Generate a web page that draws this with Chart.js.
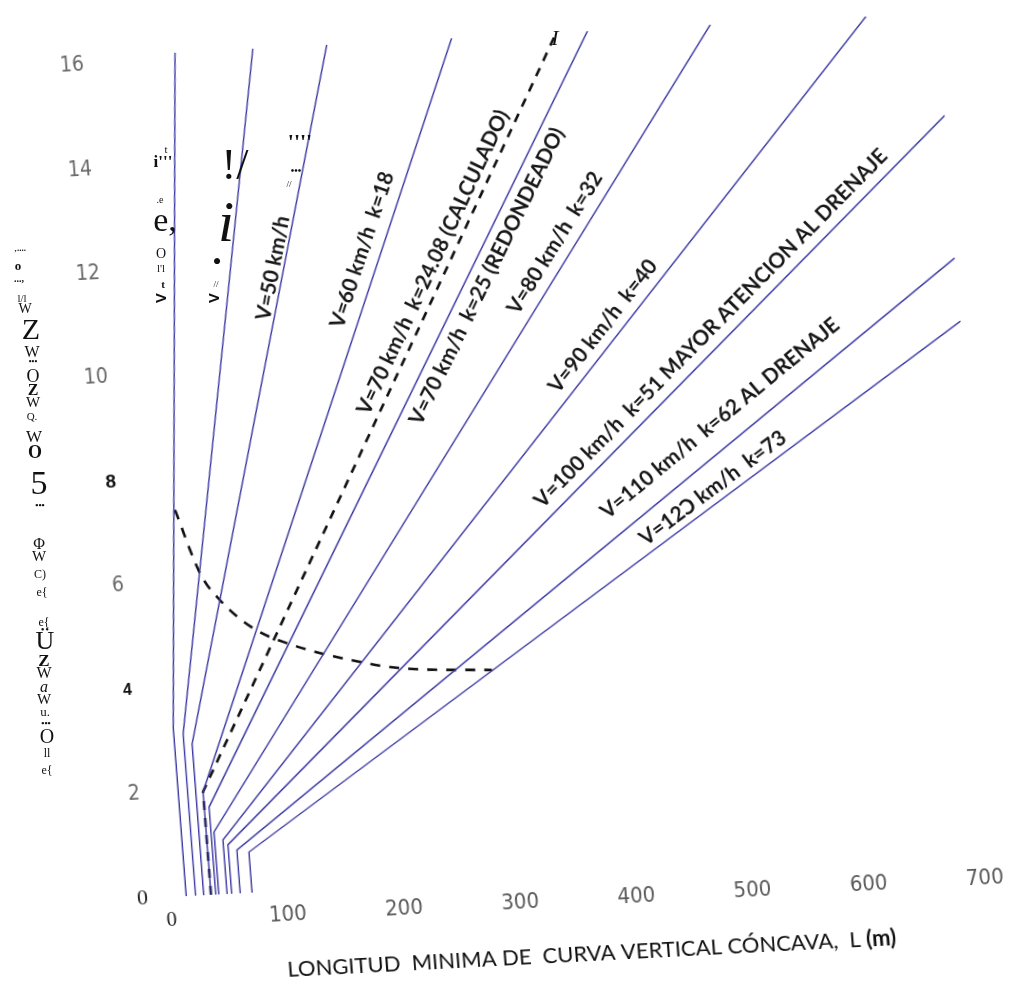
<!DOCTYPE html>
<html>
<head>
<meta charset="utf-8">
<script src="https://cdn.jsdelivr.net/npm/chart.js@4.4.1/dist/chart.umd.min.js"></script>
<style>
  html, body { margin: 0; padding: 0; background: #fff; }
  #wrap { position: relative; width: 1009px; height: 1006px; overflow: hidden; background: #fff; }
  /* the sheet sits slightly turned on the page */
  #chart { position: absolute; left: 0; top: 0;
           transform-origin: 170px 897px;
           transform: matrix(0.9986, -0.0523, 0.0767, 0.9971, 0, 0); }
  .glyph { position: absolute; white-space: pre; line-height: 1; color: #111;
           font-family: "Liberation Serif", "DejaVu Serif", serif; }
</style>
</head>
<body>
<div id="wrap">
  <canvas id="chart" width="1009" height="1006"></canvas>
  <div id="glyphs"></div>
</div>
<script>
// Design speed of each curve (km/h)
const speeds = [30, 40, 50, 60, 70, 80, 90, 100, 110, 120];
// Minimum length L (m) used for small grade differences
const minLengths = [14, 22, 29, 35.3, 39.4, 42, 49.2, 53.1, 60.5, 70.7];
// Grade difference A (%) where each curve leaves its minimum length
const kneeGrades = [3.25, 3.1, 2.9, 1.98, 1.68, 1.2, 1.04, 0.94, 0.83, 0.78];
// Where each curve leaves the frame
const endLengths = [60, 127, 191, 298.5, 415.6, 523.4, 656.8, 716, 715, 716];
const endGrades = [16.15, 16.15, 16.18, 16.17, 16.17, 16.23, 16.2, 14.18, 11.44, 10.23];

// V=70 km/h, k=24.08 (calculated) – dashed
const calcLengths = [35.3, 35.3, 387];
const calcGrades = [0, 1.98, 16.1];

// Boundary beyond which drainage needs more attention – dashed
const drainLengths = [29.8, 47, 61, 89, 117, 178, 212, 291];
const drainGrades = [7.4, 6.17, 5.67, 5.06, 4.74, 4.31, 4.15, 4.02];

const lengthTicks = [0, 100, 200, 300, 400, 500, 600, 700];
const gradeTicks = [0, 2, 4, 6, 8, 10, 12, 14, 16];

const curveLabels = [
  'V=50 km/h',
  'V=60 km/h  k=18',
  'V=70 km/h  k=24.08 (CALCULADO)',
  'V=70 km/h  k=25 (REDONDEADO)',
  'V=80 km/h  k=32',
  'V=90 km/h  k=40',
  'V=100 km/h  k=51 MAYOR ATENCION AL DRENAJE',
  'V=110 km/h  k=62 AL DRENAJE',
  'V=12\u2183 km/h  k=73'
];
const xTitle = 'LONGITUD  MINIMA DE  CURVA VERTICAL CÓNCAVA,  L ';
const xTitleUnit = '(m)';

// ---- layout / styling (not data) ----
const labelLayout = [
  { line: 2,  L: 129.8, A: 11.93 },
  { line: 3,  L: 207.3, A: 12.19 },
  { line: 10, L: 267.4, A: 11.88 },
  { line: 4,  L: 312.7, A: 11.56 },
  { line: 5,  L: 373.2, A: 12.13 },
  { line: 6,  L: 408.9, A: 10.49 },
  { line: 7,  L: 501.3, A: 10.34 },
  { line: 8,  L: 503.1, A: 8.61 },
  { line: 9,  L: 492.5, A: 7.28 }
];
const LABEL_FONT = 'bold 21px Lato, "Open Sans", sans-serif';

const BLUE = '#3a37a3';
const datasets = speeds.map((v, i) => ({
  label: 'V=' + v,
  data: [
    { x: minLengths[i], y: 0 },
    { x: minLengths[i], y: kneeGrades[i] },
    { x: endLengths[i], y: endGrades[i] }
  ],
  borderColor: BLUE, borderWidth: 1.4, pointRadius: 0, showLine: true, tension: 0
}));
datasets.push({
  label: 'calc',
  data: calcLengths.map((L, i) => ({ x: L, y: calcGrades[i] })),
  borderColor: '#111', borderWidth: 2.6, borderDash: [9, 8], pointRadius: 0, showLine: true
});
datasets.push({
  label: 'drenaje',
  data: drainLengths.map((L, i) => ({ x: L, y: drainGrades[i] })),
  borderColor: '#111', borderWidth: 2.6, borderDash: [10, 9], pointRadius: 0, showLine: true,
  cubicInterpolationMode: 'monotone'
});

const curveLabelPlugin = {
  id: 'curveLabels',
  afterDatasetsDraw(chart) {
    const { ctx, scales: { x, y } } = chart;
    labelLayout.forEach((lab, i) => {
      const pts = chart.data.datasets[lab.line].data;
      const p1 = pts[pts.length - 2], p2 = pts[pts.length - 1];
      const ang = Math.atan2(y.getPixelForValue(p2.y) - y.getPixelForValue(p1.y),
                             x.getPixelForValue(p2.x) - x.getPixelForValue(p1.x));
      ctx.save();
      ctx.translate(x.getPixelForValue(lab.L), y.getPixelForValue(lab.A));
      ctx.rotate(ang);
      ctx.font = LABEL_FONT;
      ctx.fillStyle = '#161616';
      ctx.textAlign = 'center';
      ctx.textBaseline = 'middle';
      ctx.fillText(curveLabels[i], 0, 0);
      ctx.restore();
    });
  }
};

const axisTitlePlugin = {
  id: 'axisTitle',
  afterDraw(chart) {
    const { ctx, chartArea } = chart;
    const cx = (chartArea.left + chartArea.right) / 2;
    const cy = chartArea.bottom + 79;
    const fam = 'Lato, "Open Sans", sans-serif';
    ctx.save();
    let fs = 20;
    ctx.font = `${fs}px ${fam}`;
    const w1 = ctx.measureText(xTitle).width;
    ctx.font = `bold ${fs}px ${fam}`;
    const w2 = ctx.measureText(xTitleUnit).width;
    fs = fs * 610 / (w1 + w2);
    ctx.font = `${fs}px ${fam}`;
    const a = ctx.measureText(xTitle).width;
    ctx.font = `bold ${fs}px ${fam}`;
    const b = ctx.measureText(xTitleUnit).width;
    const x0 = cx - (a + b) / 2;
    ctx.fillStyle = '#111';
    ctx.textBaseline = 'middle';
    ctx.textAlign = 'left';
    ctx.font = `${fs}px ${fam}`;
    ctx.fillText(xTitle, x0, cy);
    ctx.font = `bold ${fs}px ${fam}`;
    ctx.fillText(xTitleUnit, x0 + a, cy);
    ctx.restore();
  }
};

const lightTick = { family: '"Liberation Sans Narrow", "DejaVu Sans Condensed", sans-serif', size: 22 };

new Chart(document.getElementById('chart'), {
  type: 'scatter',
  data: { datasets },
  options: {
    responsive: false,
    animation: false,
    devicePixelRatio: 1,
    layout: { padding: { left: 0, right: 6.3, top: 54, bottom: 0 }, autoPadding: false },
    plugins: { legend: { display: false }, tooltip: { enabled: false } },
    scales: {
      x: {
        type: 'linear', min: 0, max: 716,
        afterBuildTicks: s => { s.ticks = lengthTicks.map(v => ({ value: v })); },
        afterFit: s => { s.height = 109; },
        grid: { display: false }, border: { display: false },
        ticks: {
          padding: 3,
          maxRotation: 0,
          color: c => c.tick && c.tick.value === 0 ? '#222' : '#5a5a5a',
          font: c => (c.tick && c.tick.value === 0)
            ? { family: '"Liberation Serif", serif', size: 21 }
            : lightTick
        }
      },
      y: {
        type: 'linear', min: 0, max: 16.15,
        afterBuildTicks: s => { s.ticks = gradeTicks.map(v => ({ value: v })); },
        afterFit: s => { s.width = 170; },
        grid: { display: false }, border: { display: false },
        ticks: {
          padding: 14,
          color: c => {
            const v = c.tick ? c.tick.value : -1;
            return (v === 8 || v === 4) ? '#111' : (v === 0 ? '#222' : '#6a6a6a');
          },
          font: c => {
            const v = c.tick ? c.tick.value : -1;
            if (v === 0) return { family: '"Liberation Serif", serif', size: 22 };
            if (v === 8) return { family: '"Liberation Sans", sans-serif', size: 19, weight: 'bold' };
            if (v === 4) return { family: '"Liberation Sans", sans-serif', size: 16, weight: 'bold' };
            return { family: '"Liberation Sans Narrow", "DejaVu Sans Condensed", sans-serif', size: 21 };
          }
        }
      }
    }
  },
  plugins: [curveLabelPlugin, axisTitlePlugin]
});

// Stray glyphs printed around the left edge and the slowest curves
const looseGlyphs = [
  ['\u201A....', 20, 248, 9, 'bold'], ['o', 18, 265, 13, 'bold'], ['...,', 19, 279, 10, 'bold'],
  ['l/l', 22, 298, 11], ['W', 25, 309, 14], ['Z', 31, 329, 30], ['W', 32, 352, 16],
  ['•••', 33, 362, 8, 'bold'], ['O', 33, 376, 18], ['Z', 33, 390, 16, 'bold'], ['W', 33, 402, 15],
  ['Q.', 32, 416, 11], ['W', 34, 436, 17], ['O', 35, 452, 18, 'bold'], ['5', 39, 483, 34],
  ['•••', 40, 505, 9, 'bold'], ['Φ', 39, 544, 16], ['W', 39, 556, 15], ['C)', 40, 574, 12],
  ['e{', 42, 592, 12], ['e{', 44, 622, 12], ['Ü', 45, 641, 26], ['Z', 44, 660, 17, 'bold'],
  ['W', 44, 673, 16], ['a', 44, 687, 16, 'normal', 'italic'], ['W', 44, 699, 15], ['u.', 45, 711, 13],
  ['•••', 46, 723, 9, 'bold'], ['O', 47, 736, 20], ['ll', 47, 753, 12], ['e{', 47, 770, 12],
  ['t', 166, 149, 11], ["i'''", 163, 161, 17, 'bold'], ['.e', 160, 200, 10], ['e,', 165, 220, 34],
  ['O', 161, 254, 14], ["l'l", 161, 268, 11], ['t', 163, 284, 11, 'bold'],
  ['!/', 235, 165, 44], ['i', 226, 222, 58, 'normal', 'italic'], ['•', 217, 262, 26],
  ['//', 216, 284, 9], ["''''", 300, 142, 22, 'bold'], ['•••', 296, 171, 10, 'bold'], ['//', 289, 184, 9],
  ['I', 555, 38, 22, 'normal', 'italic']
];
const sideV = [[160, 298], [213, 298]];
const host = document.getElementById('glyphs');
looseGlyphs.forEach(([t, x, y, s, w, st]) => {
  const d = document.createElement('div');
  d.className = 'glyph';
  d.textContent = t;
  d.style.left = x + 'px';
  d.style.top = y + 'px';
  d.style.fontSize = s + 'px';
  d.style.fontWeight = w || 'normal';
  d.style.fontStyle = st || 'normal';
  d.style.transform = 'translate(-50%,-50%)';
  host.appendChild(d);
});
sideV.forEach(([x, y]) => {
  const d = document.createElement('div');
  d.className = 'glyph';
  d.textContent = 'V';
  d.style.fontFamily = '"Open Sans", sans-serif';
  d.style.fontWeight = 'bold';
  d.style.fontSize = '15px';
  d.style.left = x + 'px';
  d.style.top = y + 'px';
  d.style.transform = 'translate(-50%,-50%) rotate(-90deg)';
  host.appendChild(d);
});
</script>
</body>
</html>
